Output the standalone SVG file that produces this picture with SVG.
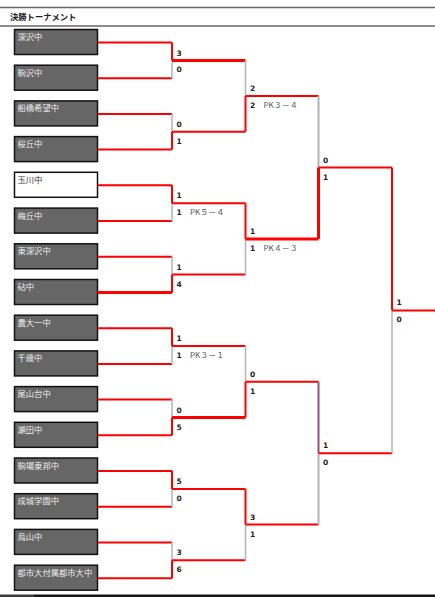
<svg xmlns="http://www.w3.org/2000/svg" width="435" height="597" viewBox="0 0 435 597">
<style>
.box{fill:#666;stroke:#111;stroke-width:1.5}
.box.w{fill:#fff}
.tn{font-family:"Noto Sans CJK JP","Noto Sans",sans-serif;font-size:8.3px;fill:#eee}
.tn.d{fill:#333}
.hd{font-family:"Noto Sans CJK JP","Noto Sans",sans-serif;font-size:8.3px;font-weight:bold;fill:#222}
.r{stroke:#f00;stroke-width:2;fill:none}
.rt{stroke:#f00;stroke-width:3;fill:none}
.g{stroke:#b4b4b4;stroke-width:1.5;fill:none}
.gt{stroke:#b4b4b4;stroke-width:2;fill:none}
.p{stroke:#9e4d7e;stroke-width:2;fill:none}
.s{font-family:"DejaVu Sans","Verdana",sans-serif;font-size:7.5px;font-weight:bold;fill:#222}
.pk{font-family:"Noto Sans CJK JP","Noto Sans",sans-serif;font-size:8px;fill:#555}
</style>
<rect x="0" y="0" width="435" height="597" fill="#fff"/>
<g id="header">
<line x1="0" y1="7.5" x2="435" y2="7.5" stroke="#666" stroke-width="1.3"/>
<line x1="0" y1="26" x2="435" y2="26" stroke="#666" stroke-width="1.3"/>
<text class="hd" x="10" y="20">決勝トーナメント</text>
</g>
<g id="footer">
<rect x="0" y="594.5" width="34" height="2.5" fill="#3a3a3a"/>
<rect x="34" y="594.5" width="401" height="2.5" fill="#151515"/>
</g>
<g id="teams">
<g id="t1"><rect class="box" x="14.5" y="29.5" width="83" height="25"/><text class="tn" x="17.5" y="40">深沢中</text></g>
<g id="t2"><rect class="box" x="14.5" y="65.2" width="83" height="25"/><text class="tn" x="17.5" y="75.7">駒沢中</text></g>
<g id="t3"><rect class="box" x="14.5" y="100.9" width="83" height="25"/><text class="tn" x="17.5" y="111.4">船橋希望中</text></g>
<g id="t4"><rect class="box" x="14.5" y="136.6" width="83" height="25"/><text class="tn" x="17.5" y="147.1">桜丘中</text></g>
<g id="t5"><rect class="box w" x="14.5" y="172.3" width="83" height="25"/><text class="tn d" x="17.5" y="182.8">玉川中</text></g>
<g id="t6"><rect class="box" x="14.5" y="208.1" width="83" height="25"/><text class="tn" x="17.5" y="218.6">梅丘中</text></g>
<g id="t7"><rect class="box" x="14.5" y="243.8" width="83" height="25"/><text class="tn" x="17.5" y="254.3">東深沢中</text></g>
<g id="t8"><rect class="box" x="14.5" y="279.5" width="83" height="25"/><text class="tn" x="17.5" y="290">砧中</text></g>
<g id="t9"><rect class="box" x="14.5" y="315.2" width="83" height="25"/><text class="tn" x="17.5" y="325.7">農大一中</text></g>
<g id="t10"><rect class="box" x="14.5" y="350.9" width="83" height="25"/><text class="tn" x="17.5" y="361.4">千歳中</text></g>
<g id="t11"><rect class="box" x="14.5" y="386.6" width="83" height="25"/><text class="tn" x="17.5" y="397.1">尾山台中</text></g>
<g id="t12"><rect class="box" x="14.5" y="422.3" width="83" height="25"/><text class="tn" x="17.5" y="432.8">瀬田中</text></g>
<g id="t13"><rect class="box" x="14.5" y="458" width="83" height="25"/><text class="tn" x="17.5" y="468.5">駒場東邦中</text></g>
<g id="t14"><rect class="box" x="14.5" y="493.7" width="83" height="25"/><text class="tn" x="17.5" y="504.2">成城学園中</text></g>
<g id="t15"><rect class="box" x="14.5" y="529.4" width="83" height="25"/><text class="tn" x="17.5" y="539.9">烏山中</text></g>
<g id="t16"><rect class="box" x="14.5" y="565.2" width="83" height="25"/><text class="tn" x="17.5" y="575.7">都市大付属都市大中</text></g>
</g>
<g id="connectors">
<!-- round 1 team lines -->
<path class="r" d="M97.5 42.5H172M97.5 78.2H172M97.5 113.9H172M97.5 149.6H172M97.5 185.3H172M97.5 221.1H172M97.5 256.8H172M97.5 363.9H172M97.5 328.2H172M97.5 399.6H172M97.5 435.3H172M97.5 471H172M97.5 506.7H172M97.5 542.4H172M97.5 578.2H172"/>
<path class="rt" d="M97.5 292.5H172"/>
<!-- round 1 verticals -->
<path class="r" d="M172 42.5V60.4M172 131.8V149.6M172 185.3V203.2M172 274.6V292.5M172 328.2V346.1M172 417.5V435.3M172 471V488.9M172 560.3V578.2"/>
<path class="g" d="M172 60.4V78.2M172 113.9V131.8M172 203.2V221.1M172 256.8V274.6M172 346.1V363.9M172 399.6V417.5M172 488.9V506.7M172 542.4V560.3"/>
<!-- round 1 outputs -->
<path class="rt" d="M172 60.4H245.5M172 417.5H245.5"/>
<path class="r" d="M172 131.8H245.5M172 203.2H245.5M172 274.6H245.5M172 346.1H245.5M172 488.9H245.5M172 560.3H245.5"/>
<!-- round 2 verticals -->
<path class="r" d="M245.5 96.1V131.8M245.5 203.2V238.9M245.5 381.8V417.5M245.5 488.9V524.6"/>
<path class="g" d="M245.5 60.4V96.1M245.5 238.9V274.6M245.5 346.1V381.8M245.5 524.6V560.3"/>
<!-- round 2 outputs -->
<path class="r" d="M245.5 96.1H318.5M245.5 381.8H318.5M245.5 524.6H318.5"/>
<path class="rt" d="M245.5 238.9H318.5"/>
<!-- round 3 verticals -->
<path class="rt" d="M318.5 167.5V238.9"/>
<path class="gt" d="M318.5 96.1V167.5M318.5 453.2V524.6"/>
<path class="p" d="M318.5 381.8V453.2"/>
<!-- round 3 outputs -->
<path class="r" d="M318.5 167.5H392M318.5 453.2H392"/>
<!-- semifinal vertical -->
<path class="r" d="M392 167.5V310.4"/>
<path class="g" d="M392 310.4V453.2"/>
<!-- final output -->
<path class="r" d="M392 310.4H435"/>
</g>
<g id="scores">
<text class="s" x="176.5" y="55.5">3</text><text class="s" x="176.5" y="72.4">0</text>
<text class="s" x="176.5" y="126.8">0</text><text class="s" x="176.5" y="143.8">1</text>
<text class="s" x="176.5" y="198.2">1</text><text class="s" x="176.5" y="215.2">1</text><text class="pk" x="190" y="215.2">PK５－４</text>
<text class="s" x="176.5" y="269.6">1</text><text class="s" x="176.5" y="286.6">4</text>
<text class="s" x="176.5" y="341.1">1</text><text class="s" x="176.5" y="358.1">1</text><text class="pk" x="190" y="358.1">PK３－１</text>
<text class="s" x="176.5" y="412.5">0</text><text class="s" x="176.5" y="429.5">5</text>
<text class="s" x="176.5" y="483.9">5</text><text class="s" x="176.5" y="500.9">0</text>
<text class="s" x="176.5" y="555.3">3</text><text class="s" x="176.5" y="572.3">6</text>
<text class="s" x="250" y="91.1">2</text><text class="s" x="250" y="108.1">2</text><text class="pk" x="263.5" y="108.1">PK３－４</text>
<text class="s" x="250" y="233.9">1</text><text class="s" x="250" y="250.9">1</text><text class="pk" x="263.5" y="250.9">PK４－３</text>
<text class="s" x="250" y="376.8">0</text><text class="s" x="250" y="393.8">1</text>
<text class="s" x="250" y="519.6">3</text><text class="s" x="250" y="536.6">1</text>
<text class="s" x="323" y="162.5">0</text><text class="s" x="323" y="179.5">1</text>
<text class="s" x="323" y="448.2">1</text><text class="s" x="323" y="465.2">0</text>
<text class="s" x="396.5" y="305.4">1</text><text class="s" x="396.5" y="322.4">0</text>
</g>
</svg>
